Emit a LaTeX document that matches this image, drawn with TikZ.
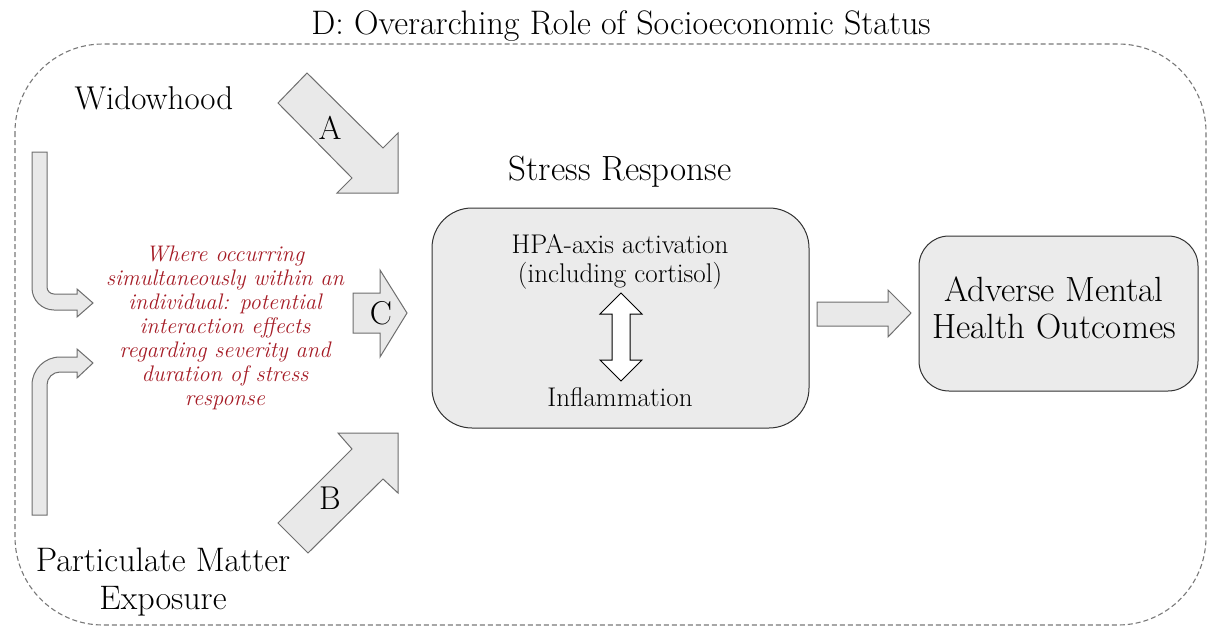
\documentclass[tikz,border=0pt]{standalone}
\usetikzlibrary{calc}
\definecolor{boxfill}{RGB}{235,235,235}
\definecolor{arrfill}{RGB}{233,233,233}
\definecolor{arrline}{RGB}{110,110,110}
\definecolor{boxline}{RGB}{50,50,50}
\definecolor{dashline}{RGB}{120,120,120}
\definecolor{note}{RGB}{165,28,38}
\tikzset{
  blockarrow/.style={fill=arrfill, draw=arrline, line width=1pt, line join=miter},
  roundbox/.style={fill=boxfill, draw=boxline, line width=1pt},
  lbl/.style={inner sep=0pt, align=center, font=\fontsize{33}{40}\selectfont},
  small/.style={inner sep=0pt, align=center, font=\fontsize{27}{29}\selectfont},
  notetext/.style={inner sep=0pt, align=center, text=note, font=\fontsize{22.5}{24}\selectfont\itshape},
}
\begin{document}
\begin{tikzpicture}[x=1pt,y=-1pt]
\useasboundingbox (0,0) rectangle (1207,626);
% outer dashed frame
\draw[dashline, dashed, dash pattern=on 5pt off 3pt, line width=1.1pt, rounded corners=88pt] (15,44) rectangle (1206,625);
\node[lbl, font=\fontsize{34}{40}\selectfont] (title) at (621,26) {D: Overarching Role of Socioeconomic Status};

% left labels
\node[lbl] (widow) at (154,98) {Widowhood};
\node[lbl, font=\fontsize{34}{38}\selectfont] (pm) at (163,582) {Particulate Matter\\Exposure};

% bent arrows
\draw[blockarrow] (32,152) -- (47,152) -- (47,287) arc[start angle=180,end angle=90,radius=7] -- (77,294) -- (77,289) -- (93,303) -- (77,317) -- (77,310) -- (54,310) arc[start angle=90,end angle=180,radius=22] -- cycle;
\draw[blockarrow] (32,515) -- (47,515) -- (47,385) arc[start angle=180,end angle=270,radius=13] -- (77,372) -- (77,378) -- (93,363) -- (77,349) -- (77,357) -- (60,357) arc[start angle=270,end angle=180,radius=28] -- cycle;

% note
\node[notetext] (note) at (225,328) {Where occurring\\simultaneously within an\\individual: potential\\interaction effects\\regarding severity and\\duration of stress\\response};

% arrow A
\draw[blockarrow] (278,103) -- (307,73) -- (383,148) -- (398,133) -- (398,193) -- (337,193) -- (352,178) -- cycle;
\node[lbl] (A) at (330,128) {A};
% arrow B
\draw[blockarrow] (278,523) -- (352,449) -- (338,433) -- (398,433) -- (398,493) -- (383,479) -- (308,553) -- cycle;
\node[lbl] (B) at (330,498) {B};
% arrow C
\draw[blockarrow] (353,293) -- (380,293) -- (380,270) -- (407,313) -- (380,357) -- (380,333) -- (353,333) -- cycle;
\node[lbl] (C) at (381,313) {C};

% stress response
\node[lbl, font=\fontsize{35}{40}\selectfont] (srtitle) at (620,172) {Stress Response};
\draw[roundbox, rounded corners=40pt] (432,208) rectangle (809,428);
\node[small] (hpa) at (620,262) {HPA-axis activation\\(including cortisol)};
\node[small] (infl) at (620,397) {Inflammation};
\draw[fill=white, draw=black, line width=1pt] (621,293) -- (642,314) -- (630,314) -- (630,360) -- (642,360) -- (621,381) -- (600,360) -- (612,360) -- (612,314) -- (600,314) -- cycle;

% right arrow
\draw[blockarrow] (817,302) -- (888,302) -- (888,290) -- (911,313) -- (888,337) -- (888,326) -- (817,326) -- cycle;

% outcome
\draw[roundbox, rounded corners=30pt] (919,236) rectangle (1198,391);
\node[lbl, font=\fontsize{35}{37}\selectfont] (out) at (1054,308) {Adverse Mental\\Health Outcomes};
\end{tikzpicture}
\end{document}
